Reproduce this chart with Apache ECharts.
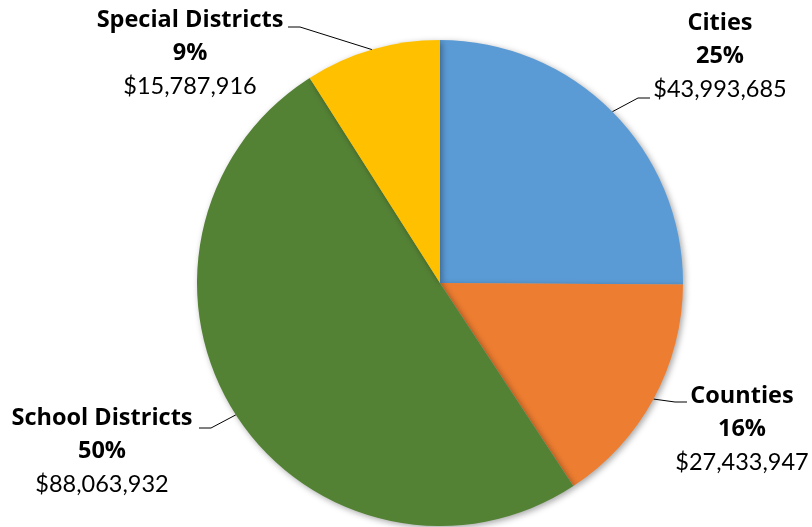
<!DOCTYPE html>
<html><head><meta charset="utf-8">
<script src="https://cdn.jsdelivr.net/npm/echarts@6/dist/echarts.min.js"></script>
<style>html,body{margin:0;padding:0;background:#fff}#c{width:812px;height:527px}</style>
</head><body><div id="c"></div>
<script>
const categories = ['Cities', 'Counties', 'School Districts', 'Special Districts'];
const values = [43993685, 27433947, 88063932, 15787916];
const percentLabels = ['25%', '16%', '50%', '9%'];
const colors = ['#5B9BD5', '#ED7D31', '#548235', '#FFC000'];

// label block centers and elbow points (layout only)
const labelPos = [
  {x: 720, y: 56, elbow: [638, 98], end: [650, 98]},
  {x: 742, y: 429, elbow: [675, 402], end: [687, 402]},
  {x: 102, y: 451, elbow: [211, 428], end: [199, 428]},
  {x: 190, y: 53, elbow: [300, 27], end: [288, 27]}
];

const fmt = v => '$' + v.toLocaleString('en-US');

const chart = echarts.init(document.getElementById('c'), null, {renderer: 'canvas'});
chart.setOption({
  animation: false,
  series: [{
    type: 'pie',
    center: [440, 283],
    radius: 243,
    startAngle: 90,
    clockwise: true,
    data: categories.map((n, i) => ({
      name: n, value: values[i],
      itemStyle: {color: colors[i]}
    })),
    itemStyle: {shadowBlur: 6, shadowColor: 'rgba(0,0,0,0.35)', shadowOffsetX: 2, shadowOffsetY: 2},
    label: {
      show: true,
      position: 'outside',
      overflow: 'none',
      formatter: p => '{b|' + p.name + '}\n{b|' + percentLabels[p.dataIndex] + '}\n{v|' + fmt(p.value) + '}',
      rich: {
        b: {fontFamily: 'Open Sans', fontWeight: 'bold', fontSize: 23.5, color: '#000', lineHeight: 33, align: 'center'},
        v: {fontFamily: 'Lato', fontSize: 23.5, color: '#000', lineHeight: 33, align: 'center'}
      }
    },
    labelLine: {show: true, lineStyle: {color: '#000', width: 1}},
    labelLayout: function (params) {
      const lp = labelPos[params.dataIndex];
      const pts = params.labelLinePoints;
      const start = pts ? pts[0] : lp.elbow;
      return {
        x: lp.x, y: lp.y, align: 'center', verticalAlign: 'middle',
        labelLinePoints: [start, lp.elbow, lp.end]
      };
    }
  }]
});
</script></body></html>
